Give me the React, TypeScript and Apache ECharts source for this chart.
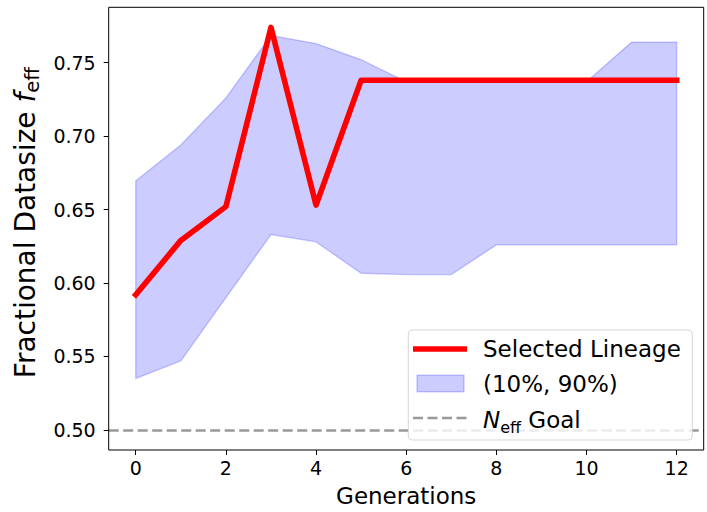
import React, { useEffect, useRef } from "react";
import * as echarts from "echarts";

const generations = [0, 1, 2, 3, 4, 5, 6, 7, 8, 9, 10, 11, 12];
const selectedLineage = [0.592, 0.629, 0.652, 0.774, 0.653, 0.738, 0.738, 0.738, 0.738, 0.738, 0.738, 0.738, 0.738];
const lower10 = [0.535, 0.547, 0.59, 0.633, 0.628, 0.6066, 0.6057, 0.6057, 0.626, 0.626, 0.626, 0.626, 0.626];
const upper90 = [0.6695, 0.694, 0.726, 0.7685, 0.763, 0.752, 0.737, 0.737, 0.737, 0.737, 0.737, 0.764, 0.764];
const goal = 0.5;
const xTicks = [0, 2, 4, 6, 8, 10, 12];
const yTicks = [0.5, 0.55, 0.6, 0.65, 0.7, 0.75];

const FONT = "DejaVu Sans";

export default function App() {
  const ref = useRef<HTMLDivElement>(null);
  useEffect(() => {
    const chart = echarts.init(ref.current!, null, { renderer: "svg" });
    const xMinD = Math.min(...generations);
    const xMaxD = Math.max(...generations);
    const xPad = (xMaxD - xMinD) * 0.05;
    const yMinD = Math.min(goal, ...lower10, ...selectedLineage);
    const yMaxD = Math.max(...upper90, ...selectedLineage);
    const yPad = (yMaxD - yMinD) * 0.05;

    const option: any = {
      animation: false,
      backgroundColor: "#fff",
      grid: {
        left: 108.7,
        top: 7.3,
        width: 595,
        height: 444.4,
        show: true,
        borderColor: "#000",
        borderWidth: 1,
        backgroundColor: "transparent",
        z: 10,
      },
      xAxis: {
        type: "value",
        min: xMinD - xPad,
        max: xMaxD + xPad,
        name: "Generations",
        nameLocation: "middle",
        nameGap: 34,
        nameTextStyle: { fontFamily: FONT, fontSize: 23, color: "#000" },
        axisLine: { show: false, onZero: false },
        splitLine: { show: false },
        axisTick: { show: true, length: 5, lineStyle: { color: "#000", width: 1 }, customValues: xTicks },
        axisLabel: {
          customValues: xTicks,
          fontFamily: FONT,
          fontSize: 19,
          color: "#000",
          margin: 8,
          formatter: (v: number) => String(v),
        },
      },
      yAxis: {
        type: "value",
        min: yMinD - yPad,
        max: yMaxD + yPad,
        name: "{a|Fractional Datasize }{i|f}{s|eff}",
        nameLocation: "middle",
        nameGap: 54,
        nameRotate: 90,
        nameTextStyle: {
          fontFamily: FONT,
          fontSize: 28,
          color: "#000",
          padding: [0, 0, 0, 12],
          rich: {
            a: { fontFamily: FONT, fontSize: 28, color: "#000", lineHeight: 34 },
            i: { fontFamily: FONT, fontSize: 28, fontStyle: "italic", color: "#000", lineHeight: 34 },
            s: { fontFamily: FONT, fontSize: 19.6, color: "#000", lineHeight: 20, verticalAlign: "bottom" },
          },
        },
        axisLine: { show: false, onZero: false },
        splitLine: { show: false },
        axisTick: { show: true, length: 5, lineStyle: { color: "#000", width: 1 }, customValues: yTicks },
        axisLabel: {
          customValues: yTicks,
          fontFamily: FONT,
          fontSize: 19,
          color: "#000",
          margin: 13,
          formatter: (v: number) => v.toFixed(2),
        },
      },
      series: [
        {
          type: "custom",
          name: "(10%, 90%)",
          silent: true,
          z: 1,
          data: [[generations[0], lower10[0], upper90[0]]],
          encode: { x: 0, y: [1, 2] },
          renderItem: (params: any, api: any) => {
            if (params.dataIndex !== 0) return null;
            const pts: number[][] = [];
            generations.forEach((g, i) => pts.push(api.coord([g, upper90[i]])));
            for (let i = generations.length - 1; i >= 0; i--) pts.push(api.coord([generations[i], lower10[i]]));
            return {
              type: "polygon",
              shape: { points: pts },
              style: { fill: "rgba(0,0,255,0.2)", stroke: "rgba(0,0,255,0.2)", lineWidth: 1.4 },
            };
          },
        },
        {
          type: "line",
          name: "goal",
          data: [],
          z: 2,
          silent: true,
          markLine: {
            silent: true,
            symbol: ["none", "none"],
            label: { show: false },
            lineStyle: { color: "rgba(128,128,128,0.8)", type: [10, 4.5], width: 2.5 },
            data: [{ yAxis: goal }],
          },
        },
        {
          type: "line",
          name: "Selected Lineage",
          z: 3,
          silent: true,
          showSymbol: false,
          symbol: "none",
          data: generations.map((g, i) => [g, selectedLineage[i]]),
          lineStyle: { color: "#ff0000", width: 5.6, cap: "square", join: "round" },
        },
      ],
      graphic: [
        {
          type: "group",
          z: 100,
          children: [
            {
              type: "rect",
              shape: { x: 408.3, y: 330, width: 284, height: 110, r: 4 },
              style: { fill: "rgba(255,255,255,0.8)", stroke: "rgba(204,204,204,0.8)", lineWidth: 1 },
              z: 100,
            },
            {
              type: "line",
              shape: { x1: 413, y1: 349, x2: 467, y2: 349 },
              style: { stroke: "#ff0000", lineWidth: 5.6 },
              z: 101,
            },
            {
              type: "rect",
              shape: { x: 417, y: 375.3, width: 47, height: 16.4 },
              style: { fill: "rgba(0,0,255,0.2)", stroke: "rgba(0,0,255,0.2)", lineWidth: 1.4 },
              z: 101,
            },
            {
              type: "line",
              shape: { x1: 413, y1: 418, x2: 467, y2: 418 },
              style: { stroke: "rgba(128,128,128,0.8)", lineWidth: 2.5, lineDash: [10, 4.5] },
              z: 101,
            },
            {
              type: "text",
              x: 483,
              y: 349,
              z: 101,
              style: { text: "Selected Lineage", fontFamily: FONT, fontSize: 23, fill: "#000", verticalAlign: "middle" },
            },
            {
              type: "text",
              x: 483,
              y: 384,
              z: 101,
              style: { text: "(10%, 90%)", fontFamily: FONT, fontSize: 23, fill: "#000", verticalAlign: "middle" },
            },
            {
              type: "text",
              x: 483,
              y: 420,
              z: 101,
              style: {
                text: "{i|N}{s|eff}{a| Goal}",
                fontFamily: FONT,
                fontSize: 23,
                fill: "#000",
                verticalAlign: "middle",
                rich: {
                  i: { fontFamily: FONT, fontSize: 23, fontStyle: "italic", fill: "#000", lineHeight: 30 },
                  s: { fontFamily: FONT, fontSize: 16, fill: "#000", lineHeight: 18, verticalAlign: "bottom" },
                  a: { fontFamily: FONT, fontSize: 23, fill: "#000", lineHeight: 30 },
                },
              },
            },
          ],
        },
      ],
    };
    chart.setOption(option);
    return () => chart.dispose();
  }, []);
  return (
    <div
      ref={ref}
      style={{ position: "fixed", left: 0, top: 0, width: 707, height: 512, background: "#fff" }}
    />
  );
}
